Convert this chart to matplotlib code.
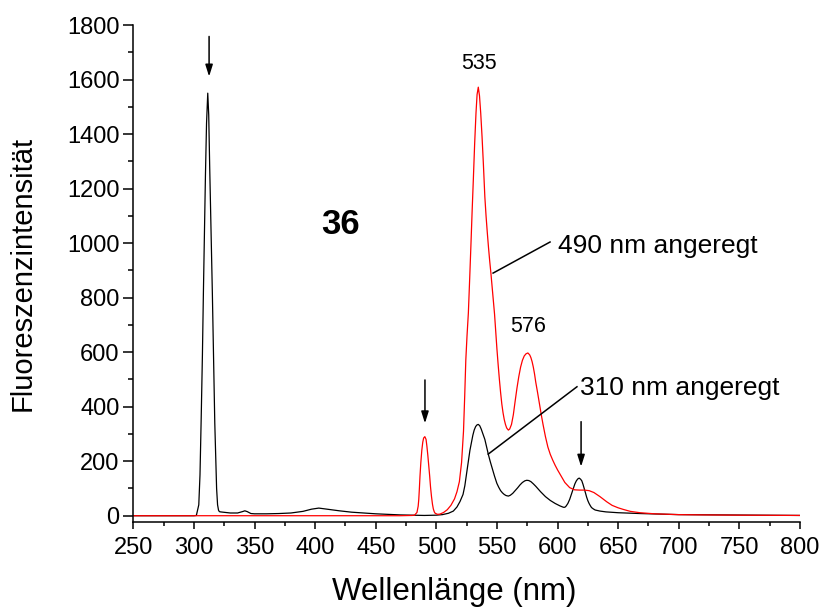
import matplotlib
matplotlib.use("Agg")
import matplotlib.pyplot as plt
from matplotlib.ticker import MultipleLocator

plt.rcParams['font.family'] = ['Liberation Sans', 'DejaVu Sans']

# spectrum excited at 310 nm (black)
wl_310 = [250, 300, 302, 304, 305, 306, 307, 307.8, 308.7, 309.5, 310.4, 311.4, 312.2, 313,
          314.1, 315.2, 316, 316.5, 317.2, 318, 318.7, 319.5, 320.3, 321, 322, 326, 330, 336,
          340, 342, 344, 347, 350, 360, 370, 380, 390, 397, 403, 410,
          420, 430, 440, 450, 460, 470, 480, 490, 500, 505, 510, 514, 517, 519.5, 522, 523.5,
          524.5, 525.5, 526.5, 527.7, 529, 530.1, 531.2, 532.4, 533.5, 534.6, 535.8, 537, 538,
          539, 540, 541.5, 543, 544.5, 546, 548, 549.9, 551.5, 553, 554.5, 556, 557.5, 559.4,
          561, 563, 565, 567, 569, 571, 573, 574.6, 576.3, 578, 580, 582, 584, 586, 590, 594,
          598, 602, 604.8, 606, 607, 608.5, 610, 611.5, 613, 614.3, 615.5, 616.7, 617.8, 619,
          620, 621, 622, 623, 624, 625, 626, 627, 628, 629.5, 631, 635, 640, 650, 668, 700,
          733, 800]
int_310 = [0, 0, 1, 40, 150, 360, 590, 816, 1040, 1250, 1440, 1550, 1470, 1280,
           1050, 816, 620, 500, 340, 204, 100, 40, 20, 15, 14, 12, 10, 10,
           15, 18, 15, 8, 7, 7, 8, 10, 16, 24, 28, 24,
           18, 13, 10, 7, 5, 3, 2, 1, 2, 4, 9, 17, 32, 52, 78, 110,
           140, 172, 204, 240, 270, 295, 314, 327, 333, 335, 330, 318, 305,
           293, 280, 252, 223, 198, 175, 145, 119, 104, 92, 84, 78, 74, 72,
           75, 82, 92, 102, 113, 122, 128, 130, 129, 125, 117, 108, 98, 88, 70, 56,
           45, 36, 31, 31, 35, 45, 60, 80, 100, 117, 128, 135, 138, 134,
           128, 115, 100, 84, 68, 55, 45, 37, 30, 25, 21, 17, 14, 11, 8, 4,
           3, 1]

# spectrum excited at 490 nm (red)
wl_490 = [250, 300, 400, 470, 480, 482, 484, 485, 485.5, 486, 486.5, 487.2, 488, 488.8,
          489.5, 490.5, 491.5, 492.2, 493, 493.8, 494.5, 495.2, 496, 496.8, 497.5, 498.3,
          499, 501, 503, 506, 509, 512, 515, 517, 519, 520.8, 522.4, 523.4, 524.3, 525.3, 526.4,
          527.5, 528.5, 529.5, 530.5, 531.6, 532.7, 533.6, 534.6, 535.6, 536.6, 537.7, 538.8,
          540, 541, 542, 543, 544, 545, 546, 547, 548, 549, 550, 551, 552, 553, 554, 555,
          556, 557, 558, 559.4, 560.5, 562, 563.5, 565, 566.5, 568, 569.5, 571, 572.5, 574,
          575.5, 577, 578, 579, 580, 581, 582, 583.5, 585, 586.5, 588, 590, 592,
          594, 596, 598, 600, 603, 606, 610, 614, 618, 622, 626, 630, 635, 640.6, 645, 650,
          654.3, 660, 668, 680, 700, 720, 750, 800]
int_490 = [0, 0, 0, 0, 1, 2, 12, 35, 60, 100, 145, 195, 240, 270,
           285, 290, 280, 255, 220, 180, 145, 105, 70, 42, 25, 14,
           9, 5, 6, 12, 22, 38, 62, 88, 125, 195, 310, 440, 571, 660, 743,
           870, 990, 1115, 1232, 1365, 1477, 1545, 1572, 1540, 1477, 1390, 1290,
           1170, 1100, 1040, 985, 935, 890, 840, 790, 740, 675, 610, 553, 500, 452, 410, 378,
           353, 335, 322, 314, 318, 335, 370, 420, 468, 510, 545, 570, 586, 594,
           597, 590, 580, 565, 545, 520, 490, 452, 412, 372, 335, 290, 252,
           225, 204, 185, 168, 145, 122, 103, 95, 94, 94, 92, 85, 70, 51, 38, 29,
           23, 16, 11, 7, 4, 3, 2, 1]

fig = plt.figure(figsize=(8.21, 6.07), dpi=100)
ax = fig.add_axes([0.1624, 0.1405, 0.812, 0.8183])

ax.plot(wl_310, int_310, color='black', lw=0.9)
ax.plot(wl_490, int_490, color='#ff0000', lw=0.9)

ax.set_xlim(250, 800)
ax.set_ylim(-22, 1800)
ax.xaxis.set_major_locator(MultipleLocator(50))
ax.xaxis.set_minor_locator(MultipleLocator(25))
ax.yaxis.set_major_locator(MultipleLocator(200))
ax.yaxis.set_minor_locator(MultipleLocator(100))
ax.spines['top'].set_visible(False)
ax.spines['right'].set_visible(False)
for s in ('left', 'bottom'):
    ax.spines[s].set_linewidth(1.1)
ax.tick_params(axis='both', which='both', direction='out', width=1.1, labelsize=17)
ax.tick_params(axis='y', which='major', length=7, pad=3)
ax.tick_params(axis='y', which='minor', length=3.5)
ax.tick_params(axis='x', which='major', length=5, pad=6)
ax.tick_params(axis='x', which='minor', length=3)

ax.set_xlabel('Wellenlänge (nm)', fontsize=22.5, labelpad=13, x=0.481)
ax.set_ylabel('Fluoreszenzintensität', fontsize=21, labelpad=22)

# arrows marking the excitation / scatter peaks
arrow_x = [312.5, 490.6, 619.4]
arrow_top = [1758, 498, 345]
arrow_tip = [1611, 339, 180]
for xa, yt, yp in zip(arrow_x, arrow_top, arrow_tip):
    ax.annotate('', xy=(xa, yp), xytext=(xa, yt),
                arrowprops=dict(arrowstyle='-|>,head_length=0.7,head_width=0.22',
                                color='black', lw=1.1, shrinkA=0, shrinkB=0))

ax.text(535, 1657, '535', fontsize=15.5, ha='center', va='center')
ax.text(576, 694, '576', fontsize=15.5, ha='center', va='center')
ax.text(421, 1067, '36', fontsize=25, fontweight='bold', ha='center', va='center')

ax.plot([546.8, 593.8], [890, 1004], color='black', lw=1.1)
ax.text(600.2, 963, '490 nm angeregt', fontsize=19, ha='left', va='baseline')
ax.plot([542.8, 616.0], [226, 473], color='black', lw=1.1)
ax.text(618.6, 443, '310 nm angeregt', fontsize=19, ha='left', va='baseline')

fig.savefig('out.png', dpi=100)
